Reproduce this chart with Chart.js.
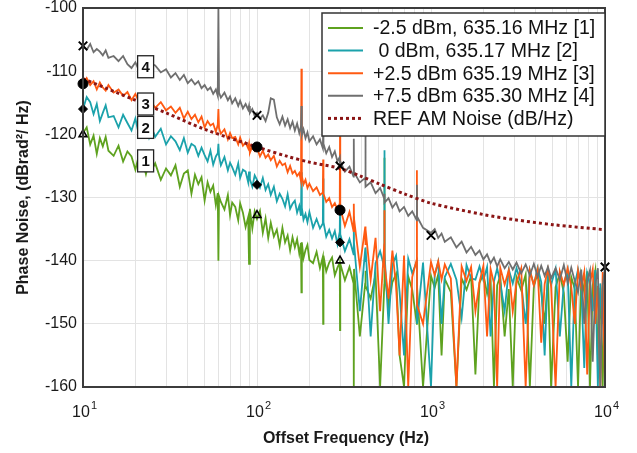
<!DOCTYPE html>
<html>
<head>
<meta charset="utf-8">
<script src="https://cdn.jsdelivr.net/npm/chart.js@4.4.1/dist/chart.umd.min.js"></script>
<style>
  html, body { margin: 0; padding: 0; background: #fff; }
  #wrap { width: 637px; height: 453px; }
</style>
</head>
<body>
<div id="wrap"><canvas id="chart" width="637" height="453"></canvas></div>
<script>
// offset frequency (Hz), shared by the four measured traces
const freq = [
  10, 10.5, 11, 11.5, 12, 12.5, 13, 13.5, 14, 15,
  16, 17, 18, 19, 20, 21, 22, 23, 24, 25,
  26, 28, 30, 32, 34, 36, 38, 40, 42, 44,
  46, 48, 50, 52, 54, 56, 58, 59.5, 60, 60.5,
  62, 65, 68, 70, 72, 75, 78, 80, 83, 86,
  89, 90, 91, 94, 97, 100, 104, 108, 112, 116,
  120, 125, 130, 135, 140, 145, 150, 155, 160, 165,
  170, 175, 179, 180, 181, 185, 190, 195, 200, 210,
  220, 230, 239, 240, 241, 250, 260, 270, 280, 290,
  299, 300, 301, 320, 340, 359, 360, 361, 390, 419,
  420, 421, 450, 480, 510, 539, 540, 541, 570, 600,
  630, 660, 700, 740, 780, 829, 830, 831, 900, 1000,
  1050, 1100, 1150, 1200, 1300, 1400, 1500, 1600, 1700, 1800,
  1900, 2000, 2100, 2200, 2300, 2400, 2500, 2650, 2800, 2950,
  3100, 3300, 3500, 3700, 3900, 4100, 4300, 4500, 4700, 4900,
  5200, 5500, 5800, 6100, 6400, 6700, 7000, 7300, 7600, 7900,
  8200, 8500, 8800, 9100, 9400, 9700, 10000
];

// [1] -2.5 dBm
const noise1 = [
  -119.8, -118.9, -121.6, -120.2, -123.1, -120.6, -121.9, -120.4, -122.6, -123.4,
  -121.8, -124.3, -122.7, -123.5, -125.6, -123.2, -124.1, -126.3, -124.2, -125.5,
  -124.6, -127.2, -125.4, -126.5, -124.9, -128.3, -126.2, -125.7, -129.4, -126.4,
  -127.9, -126.8, -130.5, -127.6, -129.1, -128.1, -131.2, -129.3, -140, -129.8,
  -130.7, -131.9, -129.6, -132.8, -130.8, -131.5, -133.6, -130.9, -132.4, -134.7,
  -133.1, -140.5, -131.8, -134.9, -132.2, -133.4, -132.1, -135.6, -133.3, -136.4,
  -134, -136.2, -135.1, -137.6, -134.8, -137.1, -136, -138.4, -136.3, -137.9,
  -136.6, -138.9, -137.2, -145, -137.1, -139.6, -138.3, -137.5, -139.9, -140.4,
  -138.6, -141.2, -139.4, -150, -139.2, -141.7, -140.3, -139.5, -142.3, -141.1,
  -140.3, -151, -140.5, -143.1, -141, -143.6, -160, -141.3, -152, -143.5,
  -141.6, -144, -146, -142.2, -160, -143.8, -123.7, -141.9, -147, -143.4,
  -142.1, -155, -160, -142.5, -144.6, -150, -142.6, -144, -160, -142.4,
  -144.3, -142.2, -155, -142.9, -145, -160, -142.8, -144.6, -142.4, -158,
  -143.5, -142.1, -145.2, -142.8, -160, -143.9, -142.4, -152, -144.5, -160,
  -142.6, -144.7, -142.2, -160, -144.1, -141.9, -145, -150, -142.4, -160,
  -144.2, -142, -145.1, -156, -142.6, -144.5, -160, -142.3, -145, -141.7,
  -160, -143.9, -141.5, -155, -144.3, -160, -142
];

// [2] 0 dBm
const noise2 = [
  -116, -114.1, -114.9, -116.8, -115.2, -117.9, -116.6, -115.4, -117.3, -117.1,
  -118.9, -116.9, -118.2, -119.4, -117.5, -120.2, -118.9, -118.1, -120.5, -119.2,
  -120.4, -119.1, -121.6, -120.3, -121.1, -122.5, -120.6, -122.9, -121.5, -121.9,
  -123.4, -122.1, -123.3, -124.3, -122.6, -124.8, -123.5, -123, -121.5, -123.4,
  -124.9, -123.6, -125.7, -124.5, -125.2, -126.4, -124.6, -126.9, -125.6, -125.9,
  -127.6, -125.9, -127.1, -128.3, -126.5, -127.2, -128.4, -126.9, -128.8, -127.9,
  -129.6, -128.3, -130.6, -129.4, -130.2, -131.4, -129.5, -131.8, -131, -130.5,
  -132.4, -131.3, -132.9, -126, -131.6, -133.5, -132.6, -133.9, -132.3, -134.8,
  -133.4, -134.9, -134.1, -127, -133.9, -136.2, -135.1, -136.5, -135.3, -137.4,
  -135.4, -131, -135.8, -138.5, -136.6, -139, -133, -137.2, -148, -138.1,
  -140.2, -137.9, -152, -140.4, -138.5, -141, -122.5, -138.8, -150, -140.6,
  -139.2, -145, -155, -139.7, -142, -140.1, -142.4, -150, -140.3, -160,
  -142.3, -140.2, -150, -142.6, -140.5, -143, -149, -140.7, -142.8, -143,
  -140.9, -143.1, -141, -152, -143.3, -141.2, -143.5, -148, -141.4, -143.6,
  -141.2, -143.7, -150, -141.5, -143.9, -141.1, -143.4, -155, -141.6, -143.8,
  -141.3, -152, -143.6, -141.5, -160, -143.7, -141.4, -144, -157, -142,
  -143.8, -148, -141.5, -160, -143.6, -150, -143
];

// [3] +2.5 dBm
const noise3 = [
  -112, -111.1, -112.2, -111.6, -112.9, -111.8, -112.6, -113.1, -112.2, -113.4,
  -112.9, -113.9, -113.3, -114.6, -113.6, -114.9, -114.1, -115.4, -114.5, -115.1,
  -115.8, -114.9, -116.2, -115.6, -116.6, -115.8, -117.5, -116.4, -117.6, -116.9,
  -118.1, -117.2, -118.9, -117.9, -118.6, -118.3, -119.6, -118.5, -116, -119,
  -119.9, -119.2, -120.8, -119.8, -120.6, -120.4, -121.6, -120.5, -121.8, -121.3,
  -122.2, -121.5, -122.9, -121.9, -122.6, -122.1, -123.5, -122.6, -123.7, -123.2,
  -124.1, -123.4, -125.1, -124.2, -124.9, -124.6, -126, -125, -126.2, -125.8,
  -126.6, -126.1, -127.4, -109.6, -126.6, -127.9, -127.2, -128.5, -127.8, -129,
  -128.4, -129.6, -129.2, -124, -129.4, -130.7, -130.1, -131.5, -130.9, -131.9,
  -130.9, -120, -131.6, -134.5, -132.3, -135.3, -131, -133.3, -141, -134.6,
  -137.5, -135, -143, -136.4, -148, -137.3, -132, -140.5, -146, -138.4,
  -144, -155, -139.2, -160, -142.6, -139.8, -125.7, -147, -150, -140.2,
  -142.3, -140.1, -143, -140.6, -142.8, -160, -140.9, -143.2, -141, -148,
  -143.4, -140.8, -152, -141.3, -143.6, -160, -141.1, -143.8, -141.5, -148,
  -143.5, -141.2, -160, -141.6, -143.9, -141.4, -153, -143.7, -141.3, -144,
  -160, -141.7, -143.8, -141.2, -144.1, -150, -141.6, -144.2, -141.8, -158,
  -143.6, -141.4, -150, -144, -160, -141.8, -160
];

// [4] +7.5 dBm
const noise4 = [
  -106, -106.6, -105.7, -107, -106.5, -106.9, -107.5, -106.7, -107.9, -107.6,
  -108.4, -107.6, -108.9, -109.5, -108.6, -109.9, -109.2, -108.7, -109.6, -108.9,
  -109.1, -110.2, -109.7, -111, -110.3, -111.4, -110.6, -111.9, -111.3, -112.1,
  -111.6, -112.7, -112.2, -113, -112.6, -113.6, -112.9, -113.9, -100, -113.4,
  -114.2, -113.4, -114.6, -114, -115.1, -114.3, -115.5, -114.7, -115.9, -115.2,
  -116.1, -115.5, -116.6, -116, -117.1, -116.6, -117.5, -117, -117.9, -116.6,
  -114.3, -114.5, -117.3, -118.4, -117.2, -118.6, -117.6, -119, -118, -119.4,
  -118.3, -119.8, -118.7, -115.5, -120.1, -119.2, -120.6, -119.7, -121.1, -120.3,
  -121.6, -120.8, -122.2, -119.4, -121.5, -123, -122, -123.6, -122.7, -124.3,
  -123.6, -124.9, -124.3, -125.9, -125.1, -126.7, -120.7, -126, -127.6, -126.9,
  -120.2, -128.3, -127.6, -129.3, -128.5, -130.2, -129.4, -130.8, -130.1, -131.6,
  -130.8, -132.2, -131.5, -132.9, -132.2, -133.6, -128, -133, -134.8, -135.6,
  -135, -136.4, -135.7, -137, -136.3, -137.9, -137, -138.7, -137.8, -139.1,
  -138.4, -139.8, -139, -140.4, -139.5, -140.9, -139.8, -141.2, -140.2, -141.4,
  -140.3, -142, -140.6, -142.3, -140.5, -142.5, -140.8, -142.4, -141, -142.8,
  -141.2, -143, -140.7, -143.5, -141.1, -143.2, -145, -141.4, -150, -143.1,
  -141.5, -156, -143.8, -141.2, -160, -144, -141
];

// REF AM noise curve
const refFreq = [10, 20, 30, 50, 100, 150, 200, 300, 400, 500, 700, 1000, 2000, 3000, 5000, 10000];
const refNoise = [-111.2, -114.6, -116.6, -119.2, -122, -123.5, -124.4, -125.4, -126.7, -127.8, -129.4, -130.9, -132.7, -133.5, -134.3, -135.1];

// black marker points on each trace
const markFreq1 = [10, 100, 300];
const markVals1 = [-120, -132.8, -140];
const markFreq2 = [10, 100, 300];
const markVals2 = [-116, -128, -137.1];
const markFreq3 = [10, 100, 300];
const markVals3 = [-112, -122, -132];
const markFreq4 = [10, 100, 300, 1000, 10000];
const markVals4 = [-106, -117, -125, -136, -141];

const seriesLabels = [
  "-2.5 dBm, 635.16 MHz [1]",
  " 0 dBm, 635.17 MHz [2]",
  "+2.5 dBm 635.19 MHz [3]",
  "+7.5 dBm 635.30 MHz [4]",
  "REF AM Noise (dB/Hz)"
];
const seriesColors = ["#5ea21f", "#1ba2ab", "#ff5a12", "#6f6f6f", "#8b1515"];

// numbered boxes next to the traces
const boxTexts = ["1", "2", "3", "4"];
const boxFreq = 22.9;
const boxVals = [-124.2, -118.9, -115.2, -109.3];

const xDecades = [10, 100, 1000, 10000];
const xExponents = ["1", "2", "3", "4"];
const yTicks = [-160, -150, -140, -130, -120, -110, -100];

const FONT = "'Liberation Sans', Arial, sans-serif";

const toPoints = (xs, ys) => xs.map((f, i) => ({ x: f, y: ys[i] }));

function traceSet(label, vals, color, order) {
  return {
    label,
    data: toPoints(freq, vals),
    borderColor: color,
    borderWidth: 1.8,
    pointRadius: 0,
    tension: 0,
    order,
  };
}

function markerSet(xs, ys, style, filled, radius, width) {
  return {
    type: "scatter",
    data: toPoints(xs, ys),
    pointStyle: style,
    pointRadius: radius,
    pointBorderColor: "#000",
    pointBackgroundColor: filled ? "#000" : "rgba(0,0,0,0)",
    pointBorderWidth: width,
    showLine: false,
    clip: false,
    order: 0,
  };
}

// all minor log gridlines 10..10000
const logGrid = [];
[10, 100, 1000].forEach((d) => {
  for (let k = 1; k < 10; k++) logGrid.push(d * k);
});
logGrid.push(10000);

const overlay = {
  id: "overlay",
  afterDraw(chart) {
    const { ctx, chartArea: a, scales } = chart;
    const sx = scales.x, sy = scales.y;
    ctx.save();

    // plot frame
    ctx.strokeStyle = "#3c3c3c";
    ctx.lineWidth = 2;
    ctx.strokeRect(a.left, a.top, a.right - a.left, a.bottom - a.top);

    // x tick labels 10^n
    ctx.fillStyle = "#1a1a1a";
    ctx.textBaseline = "alphabetic";
    xDecades.forEach((v, i) => {
      const px = sx.getPixelForValue(v);
      ctx.font = "16px " + FONT;
      const w = ctx.measureText("10").width;
      ctx.textAlign = "left";
      ctx.fillText("10", px - w / 2 - 2, a.bottom + 30);
      ctx.font = "11px " + FONT;
      ctx.fillText(xExponents[i], px + w / 2 - 1, a.bottom + 22);
    });

    // axis titles
    ctx.font = "bold 16px " + FONT;
    ctx.textAlign = "center";
    ctx.textBaseline = "middle";
    ctx.fillText("Offset Frequency (Hz)", (a.left + a.right) / 2 + 2, a.bottom + 52);
    ctx.save();
    ctx.translate(24, (a.top + a.bottom) / 2);
    ctx.rotate(-Math.PI / 2);
    ctx.fillText("Phase Noise, (dBrad\u00B2/ Hz)", 0, 0);
    ctx.restore();

    // numbered boxes
    boxTexts.forEach((t, i) => {
      const cx = sx.getPixelForValue(boxFreq);
      const cy = sy.getPixelForValue(boxVals[i]);
      ctx.fillStyle = "#fff";
      ctx.fillRect(cx - 8, cy - 11, 16, 22);
      ctx.strokeStyle = "#222";
      ctx.lineWidth = 1.3;
      ctx.strokeRect(cx - 8, cy - 11, 16, 22);
      ctx.fillStyle = "#111";
      ctx.font = "bold 15px " + FONT;
      ctx.fillText(t, cx, cy + 1);
    });

    // legend box, top right inside the plot
    const lx = a.left + 239, ly = a.top + 5;
    const lw = a.right - lx, lh = 123;
    ctx.fillStyle = "#fff";
    ctx.fillRect(lx, ly, lw, lh);
    ctx.strokeStyle = "#333";
    ctx.lineWidth = 1.5;
    ctx.strokeRect(lx, ly, lw, lh);
    seriesLabels.forEach((lab, i) => {
      const rowY = ly + 15 + i * 22.6;
      ctx.beginPath();
      ctx.strokeStyle = seriesColors[i];
      if (i === 4) {
        ctx.lineWidth = 3;
        ctx.setLineDash([3, 3]);
      } else {
        ctx.lineWidth = 2;
        ctx.setLineDash([]);
      }
      ctx.moveTo(lx + 6, rowY);
      ctx.lineTo(lx + 41, rowY);
      ctx.stroke();
      ctx.setLineDash([]);
      ctx.fillStyle = "#111";
      ctx.font = "19.5px " + FONT;
      ctx.textAlign = "left";
      ctx.fillText(lab, lx + 51, rowY + 1);
    });

    ctx.restore();
  },
};

new Chart(document.getElementById("chart"), {
  type: "line",
  data: {
    datasets: [
      markerSet(markFreq4, markVals4, "crossRot", false, 6, 2),
      markerSet(markFreq3, markVals3, "circle", true, 5, 1),
      markerSet(markFreq2, markVals2, "rectRot", true, 4.5, 1),
      markerSet(markFreq1, markVals1, "triangle", false, 4.5, 1.6),
      {
        label: seriesLabels[4],
        data: toPoints(refFreq, refNoise),
        borderColor: seriesColors[4],
        borderWidth: 3,
        borderDash: [3, 3],
        pointRadius: 0,
        tension: 0.3,
        order: 1,
      },
      traceSet(seriesLabels[3], noise4, seriesColors[3], 2),
      traceSet(seriesLabels[2], noise3, seriesColors[2], 3),
      traceSet(seriesLabels[1], noise2, seriesColors[1], 4),
      traceSet(seriesLabels[0], noise1, seriesColors[0], 5),
    ],
  },
  options: {
    responsive: false,
    animation: false,
    devicePixelRatio: 1,
    layout: { padding: { top: 7, right: 32, left: 0, bottom: 0 } },
    plugins: {
      legend: { display: false },
      tooltip: { enabled: false },
    },
    scales: {
      x: {
        type: "logarithmic",
        min: 10,
        max: 10000,
        afterBuildTicks: (scale) => {
          scale.ticks = logGrid.map((v) => ({ value: v }));
        },
        afterFit: (scale) => {
          scale.height = 66;
          scale.paddingLeft = 0;
          scale.paddingRight = 0;
        },
        ticks: { display: false },
        grid: { color: "#e3e3e3", lineWidth: 1, drawTicks: false },
        border: { display: false },
      },
      y: {
        min: -160,
        max: -100,
        afterBuildTicks: (scale) => {
          scale.ticks = yTicks.map((v) => ({ value: v }));
        },
        afterFit: (scale) => {
          scale.width = 83;
          scale.paddingTop = 0;
          scale.paddingBottom = 0;
        },
        ticks: {
          font: { size: 16, family: FONT },
          color: "#1a1a1a",
          padding: 6,
        },
        grid: { color: "#e3e3e3", lineWidth: 1, drawTicks: false },
        border: { display: false },
      },
    },
  },
  plugins: [overlay],
});
</script>
</body>
</html>
